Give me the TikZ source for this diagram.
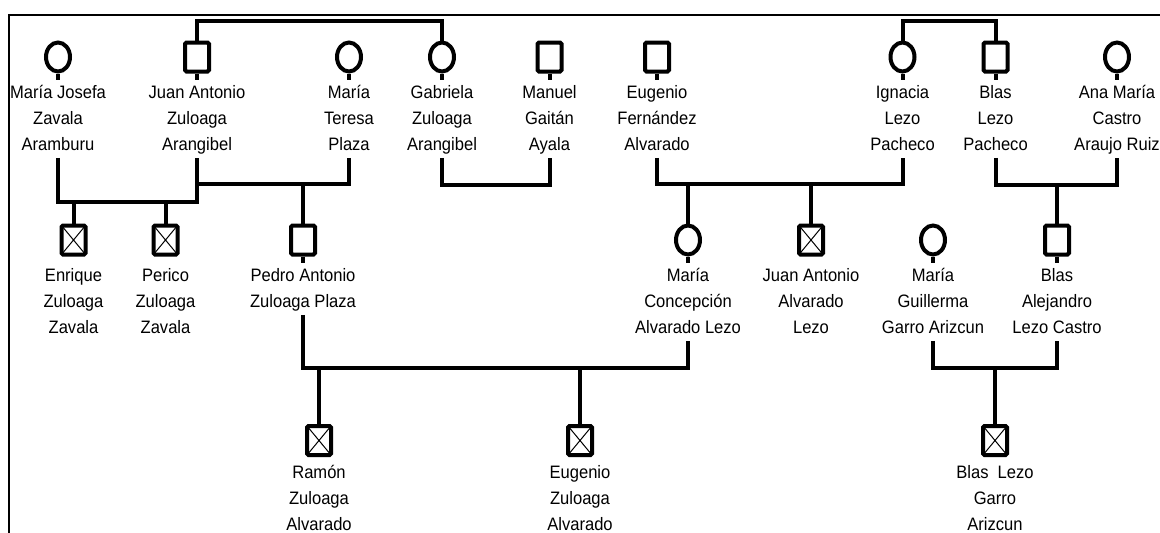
\documentclass[tikz,border=0pt]{standalone}
\usepackage{fontspec}
\usetikzlibrary{shapes.geometric}
\newfontfamily\lblfont{Liberation Sans}[FakeStretch=0.92]
% a line strut: 18.2pt above and 7.8pt below the baseline
\newcommand\linestrut{\vrule height 18.2pt depth 7.8pt width 0pt\relax}
% a name block whose first and last lines get the full line height
\newcommand\pname[1]{\linestrut#1\linestrut}
\begin{document}
\begin{tikzpicture}[x=1pt,y=-1pt,
  male/.style={rectangle, draw, line width=4pt, minimum width=24pt, minimum height=29pt,
    inner sep=0pt, rounded corners=1.5pt},
  female/.style={ellipse, draw, line width=4pt, minimum width=24pt, minimum height=29pt,
    inner sep=0pt},
  dead/.style={path picture={\draw[line width=1pt]
    (path picture bounding box.north west) -- (path picture bounding box.south east)
    (path picture bounding box.north east) -- (path picture bounding box.south west);}},
  lbl/.style={align=center, inner sep=0pt, outer sep=0pt, anchor=north,
    font=\lblfont\fontsize{18pt}{26pt}\selectfont},
  link/.style={line width=4pt},
  frame/.style={line width=2pt}]
\useasboundingbox (0,0) rectangle (1160,533);

% frame
\draw[frame] (1162,15) -- (8.5,15) -- (8.5,535);

% generation 1
\node[female] (mjz) at (58,57) {};
\node[lbl] (mjzL) at (58,79.8) {\pname{María Josefa\\Zavala\\Aramburu}};
\node[male] (jaz) at (197,57) {};
\node[lbl] (jazL) at (197,79.8) {\pname{Juan Antonio\\Zuloaga\\Arangibel}};
\node[female] (mtp) at (349,57) {};
\node[lbl] (mtpL) at (349,79.8) {\pname{María\\Teresa\\Plaza}};
\node[female] (gza) at (442,57) {};
\node[lbl] (gzaL) at (442,79.8) {\pname{Gabriela\\Zuloaga\\Arangibel}};
\node[male] (mga) at (549.5,57) {};
\node[lbl] (mgaL) at (549.5,79.8) {\pname{Manuel\\Gaitán\\Ayala}};
\node[male] (efa) at (657,57) {};
\node[lbl] (efaL) at (657,79.8) {\pname{Eugenio\\Fernández\\Alvarado}};
\node[female] (ilp) at (902.5,57) {};
\node[lbl] (ilpL) at (902.5,79.8) {\pname{Ignacia\\Lezo\\Pacheco}};
\node[male] (blp) at (995.5,57) {};
\node[lbl] (blpL) at (995.5,79.8) {\pname{Blas\\Lezo\\Pacheco}};
\node[female] (amc) at (1117,57) {};
\node[lbl] (amcL) at (1117,79.8) {\pname{Ana María\\Castro\\Araujo Ruiz}};

% generation 2
\node[male,dead] (ezz) at (73.5,240) {};
\node[lbl] (ezzL) at (73.5,262.8) {\pname{Enrique\\Zuloaga\\Zavala}};
\node[male,dead] (pzz) at (165.5,240) {};
\node[lbl] (pzzL) at (165.5,262.8) {\pname{Perico\\Zuloaga\\Zavala}};
\node[male] (pazp) at (303,240) {};
\node[lbl] (pazpL) at (303,262.8) {\pname{Pedro Antonio\\Zuloaga Plaza}};
\node[female] (mcal) at (688,240) {};
\node[lbl] (mcalL) at (688,262.8) {\pname{María\\Concepción\\Alvarado Lezo}};
\node[male,dead] (jaal) at (811,240) {};
\node[lbl] (jaalL) at (811,262.8) {\pname{Juan Antonio\\Alvarado\\Lezo}};
\node[female] (mgga) at (933,240) {};
\node[lbl] (mggaL) at (933,262.8) {\pname{María\\Guillerma\\Garro Arizcun}};
\node[male] (balc) at (1057,240) {};
\node[lbl] (balcL) at (1057,262.8) {\pname{Blas\\Alejandro\\Lezo Castro}};

% generation 3
\node[male,dead] (rza) at (319,440.5) {};
\node[lbl] (rzaL) at (319,460.5) {\pname{Ramón\\Zuloaga\\Alvarado}};
\node[male,dead] (eza) at (580,440.5) {};
\node[lbl] (ezaL) at (580,460.5) {\pname{Eugenio\\Zuloaga\\Alvarado}};
\node[male,dead] (blga) at (995,440.5) {};
\node[lbl] (blgaL) at (995,460.5) {\pname{Blas\ \ Lezo\\Garro\\Arizcun}};

% union and sibling points
\coordinate (u1) at (127,202);
\coordinate (u2) at (303,184);
\coordinate (u3) at (495,185);
\coordinate (u4) at (750,184);
\coordinate (u5) at (1057,185);
\coordinate (u6) at (450,368);
\coordinate (u7) at (995,368);
\coordinate (sib1) at (320,21);
\coordinate (sib2) at (950,21);

% lines passing through the names of parents
\foreach \p in {mjz,jaz,mtp,gza,mga,efa,ilp,blp,amc,pazp,mcal,mgga,balc}
  \draw[link] (\p.south) -- (\p L.north);

% siblings
\draw[link] (jaz.north) |- (sib1) -| (gza.north);
\draw[link] (ilp.north) |- (sib2) -| (blp.north);

% couples
\draw[link] (mjzL.south) |- (u1) -| (jazL.south);
\draw[link] (mtpL.south) |- (jazL.south |- u2);
\draw[link] (gzaL.south) |- (u3) -| (mgaL.south);
\draw[link] (efaL.south) |- (u4) -| (ilpL.south);
\draw[link] (blpL.south) |- (u5) -| (amcL.south);
\draw[link] (pazpL.south) |- (u6) -| (mcalL.south);
\draw[link] (mggaL.south) |- (u7) -| (balcL.south);

% descent
\draw[link] (ezz.north) -- (ezz.north |- u1);
\draw[link] (pzz.north) -- (pzz.north |- u1);
\draw[link] (pazp.north) -- (pazp.north |- u2);
\draw[link] (mcal.north) -- (mcal.north |- u4);
\draw[link] (jaal.north) -- (jaal.north |- u4);
\draw[link] (balc.north) -- (balc.north |- u5);
\draw[link] (rza.north) -- (rza.north |- u6);
\draw[link] (eza.north) -- (eza.north |- u6);
\draw[link] (blga.north) -- (blga.north |- u7);
\end{tikzpicture}
\end{document}
